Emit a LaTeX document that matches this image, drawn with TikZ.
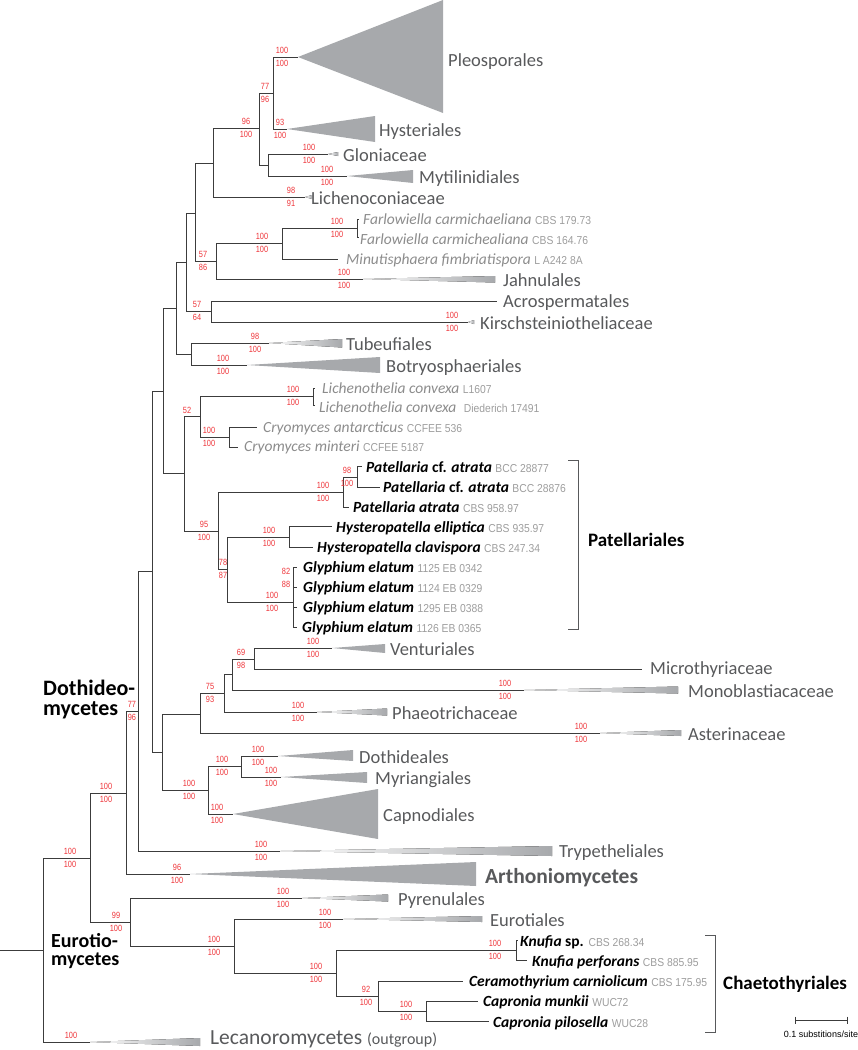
\documentclass[tikz,border=0pt]{standalone}
\usepackage{fontspec}
\setmainfont{Carlito}
\newfontfamily\strainfont[FakeStretch=0.9]{Liberation Sans}
\newfontfamily\bsfont[FakeStretch=0.82]{Liberation Sans}
\newfontfamily\scalefont{Liberation Sans}
\usetikzlibrary{positioning}

\definecolor{branchcol}{HTML}{3C3C3C}
\definecolor{cladefill}{HTML}{A7A9AC}
\definecolor{cladetext}{HTML}{58595B}
\definecolor{taxgray}{HTML}{8C8C8C}
\definecolor{straingray}{HTML}{9D9D9D}
\definecolor{bsred}{HTML}{EE3338}

\newcommand{\strain}[1]{{\strainfont\upshape\mdseries\fontsize{11.5}{12}\selectfont\color{straingray}#1}}
% bootstrap pair on a branch: name, x, y, top, bottom
\newcommand{\bsl}[5]{%
  \node[bsval] (#1-t) at (#2,#3-6.2) {#4};
  \node[bsval] (#1-b) at (#2,#3+6.4) {#5};}
% collapsed clade: [style] tip, length, up, down
\newcommand{\collapse}[5][clade]{\fill[#1] (#2) -- ++(#3,-#4) -- ++(0,#4+#5) -- cycle;}

\begin{document}
\begin{tikzpicture}[
    x=1pt, y=-1pt,
    branch/.style={draw=branchcol, line width=0.9pt},
    clade/.style={fill=cladefill},
    fadeclade/.style={left color=white, right color=cladefill},
    cladelab/.style={anchor=base west, inner sep=0pt, yshift=-6pt, text=cladetext, font=\fontsize{18.5}{20}\selectfont},
    taxon/.style={anchor=base west, inner sep=0pt, yshift=-5pt, text=taxgray, font=\fontsize{15.5}{17}\selectfont\itshape},
    boldtaxon/.style={taxon, text=black, font=\fontsize{15.5}{17}\selectfont\bfseries\itshape},
    grouplab/.style={anchor=base west, inner sep=0pt, font=\fontsize{19}{20}\selectfont\bfseries},
    bsval/.style={inner sep=0pt, text=bsred, font=\bsfont\fontsize{9}{9}\selectfont},
    bracket/.style={draw=cladetext, line width=0.9pt}
]
\useasboundingbox (0,0) rectangle (858,1050);

% Backbone
\coordinate (rootstem) at (0,950);
\coordinate (nRoot) at (43,950);
\coordinate (nU) at (90,858);
\coordinate (nT) at (126,793);
\coordinate (nS) at (138,711);
\coordinate (nR) at (152,571);
\coordinate (nO) at (163,391);
\coordinate (nI) at (176,308);
\coordinate (nG) at (186,262);
\coordinate (nD) at (195,213);
\coordinate (nB) at (213,163);

% Pleosporales to Lichenoconiaceae
\coordinate (nA) at (259,128);
\coordinate (nPH) at (273,93);
\coordinate (tPleo) at (298,57);
\coordinate (tHyst) at (287,129);
\coordinate (nGM) at (268,165);
\coordinate (tGlon) at (328,154);
\coordinate (tMyti) at (347,176);
\coordinate (tLichc) at (305,197);

% Farlowiella to Botryosphaeriales
\coordinate (nC) at (216,261);
\coordinate (nFM) at (282,243);
\coordinate (nF) at (357,228);
\coordinate (tF1) at (359,219);
\coordinate (tF2) at (359,237);
\coordinate (tMinu) at (338,259);
\coordinate (tJahn) at (363,279);
\coordinate (nE) at (211,311);
\coordinate (tAcro) at (497,301);
\coordinate (tKirs) at (468,322);
\coordinate (nH) at (191,354);
\coordinate (tTube) at (269,343);
\coordinate (tBotr) at (247,365);

% Lichenothelia, Cryomyces, Patellariales
\coordinate (nN) at (184,473);
\coordinate (nJ) at (200,416);
\coordinate (nL) at (313,396);
\coordinate (tL1) at (315,388);
\coordinate (tL2) at (315,405);
\coordinate (nCr) at (229,437);
\coordinate (tCrA) at (257,427);
\coordinate (tCrM) at (238,447);
\coordinate (nM) at (218,531);
\coordinate (nPa) at (343,492);
\coordinate (nPa12) at (357,477);
\coordinate (tPa1) at (362,466);
\coordinate (tPa2) at (380,487);
\coordinate (tPa3) at (349,507);
\coordinate (nK) at (227,569);
\coordinate (nHy) at (289,537);
\coordinate (tHe) at (332,526);
\coordinate (tHc) at (313,547);
\coordinate (nGl) at (293,602);
\coordinate (tG1) at (297,567);
\coordinate (tG2) at (297,587);
\coordinate (tG3) at (297,607);
\coordinate (tG4) at (297,627);
\coordinate (g82a) at (293.5,577);
\coordinate (g82b) at (293.5,589);

% Venturiales to Capnodiales
\coordinate (nQ) at (162,752);
\coordinate (nY) at (200,714);
\coordinate (nX) at (224,693);
\coordinate (nW) at (232,674);
\coordinate (nV) at (254,659);
\coordinate (tVent) at (332,648);
\coordinate (tMicr) at (642,669);
\coordinate (tMono) at (524,690);
\coordinate (tPhae) at (317,712);
\coordinate (tAste) at (600,733);
\coordinate (nZ2) at (208,790);
\coordinate (nZ) at (241,766);
\coordinate (tDoth) at (278,756);
\coordinate (tMyri) at (281,777);
\coordinate (tCapn) at (233,814);
\coordinate (tTryp) at (280,851);
\coordinate (tArth) at (190,874);

% Eurotiomycetes and outgroup
\coordinate (nEur) at (130,922);
\coordinate (tPyre) at (302,898);
\coordinate (nEu) at (234,946);
\coordinate (tEuro) at (343,919);
\coordinate (nKC) at (336,973);
\coordinate (nKn) at (516,950);
\coordinate (tK1) at (518,940);
\coordinate (tK2) at (527,960);
\coordinate (nCe) at (378,996);
\coordinate (tCer) at (463,981);
\coordinate (nCap) at (426,1011);
\coordinate (tCpM) at (478,1001);
\coordinate (tCpP) at (489,1021);
\coordinate (tLeca) at (90,1042);

% Collapsed clades
\collapse{tPleo}{145}{57}{56}
\collapse{tHyst}{88}{13}{13}
\collapse[fadeclade]{tGlon}{10}{2}{2}
\collapse{tMyti}{66}{6}{7}
\collapse[fadeclade]{tLichc}{7}{2}{2}
\collapse[fadeclade]{tJahn}{132}{3}{3.5}
\collapse[fadeclade]{tKirs}{6}{2}{2}
\collapse[fadeclade]{tTube}{73}{4}{4.5}
\collapse{tBotr}{133}{8}{8}
\collapse{tVent}{53}{4}{5}
\collapse[fadeclade]{tMono}{154}{3.5}{3.5}
\collapse[fadeclade]{tPhae}{70}{3.5}{3.5}
\collapse[fadeclade]{tAste}{81}{3}{3}
\collapse{tDoth}{75}{6}{5}
\collapse{tMyri}{86}{5}{6}
\collapse{tCapn}{145}{25}{25}
\collapse[fadeclade]{tTryp}{272}{5}{5}
\collapse{tArth}{286}{12}{12}
\collapse[fadeclade]{tPyre}{86}{3.5}{3.5}
\collapse[fadeclade]{tEuro}{139}{3}{3}
\collapse[fadeclade]{tLeca}{110}{4}{4}

% Branches
\draw[branch] (rootstem) -- (nRoot);
\foreach \p/\c in {nRoot/nU, nRoot/tLeca, nU/nT, nU/nEur, nT/nS, nT/tArth,
    nS/nR, nS/tTryp, nR/nO, nR/nQ, nO/nI, nO/nN, nI/nG, nI/nH,
    nG/nD, nG/nE, nD/nB, nD/nC, nB/nA, nB/tLichc, nA/nPH, nA/nGM,
    nPH/tPleo, nPH/tHyst, nGM/tGlon, nGM/tMyti, nC/nFM, nC/tJahn,
    nFM/nF, nFM/tMinu, nF/tF1, nF/tF2, nE/tAcro, nE/tKirs,
    nH/tTube, nH/tBotr, nN/nJ, nN/nM, nJ/nL, nJ/nCr, nL/tL1, nL/tL2,
    nCr/tCrA, nCr/tCrM, nM/nPa, nM/nK, nPa/nPa12, nPa/tPa3,
    nPa12/tPa1, nPa12/tPa2, nK/nHy, nK/nGl, nHy/tHe, nHy/tHc,
    nGl/tG1, nGl/tG2, nGl/tG3, nGl/tG4,
    nQ/nY, nQ/nZ2, nY/nX, nY/tAste, nX/nW, nX/tPhae, nW/nV, nW/tMono,
    nV/tVent, nV/tMicr, nZ2/nZ, nZ2/tCapn, nZ/tDoth, nZ/tMyri,
    nEur/tPyre, nEur/nEu, nEu/tEuro, nEu/nKC, nKC/nKn, nKC/nCe,
    nKn/tK1, nKn/tK2, nCe/tCer, nCe/nCap, nCap/tCpM, nCap/tCpP} {
    \draw[branch] (\p) |- (\c);
}
\draw[branch, line width=1.8pt] (g82a) -- (g82b);

% Tip labels
\node[cladelab] (lPleo) at (448,60) {Pleosporales};
\node[cladelab] (lHyst) at (379,130) {Hysteriales};
\node[cladelab] (lGlon) at (343,155) {Gloniaceae};
\node[cladelab] (lMyti) at (419,177) {Mytilinidiales};
\node[cladelab] (lLichc) at (311,198) {Lichenoconiaceae};
\node[taxon] (lF1) at (363,219) {Farlowiella carmichaeliana \strain{CBS 179.73}};
\node[taxon] (lF2) at (360,239) {Farlowiella carmichealiana \strain{CBS 164.76}};
\node[taxon] (lMinu) at (346,259) {Minutisphaera fimbriatispora \strain{L A242 8A}};
\node[cladelab] (lJahn) at (503,280) {Jahnulales};
\node[cladelab] (lAcro) at (503,301) {Acrospermatales};
\node[cladelab] (lKirs) at (480,323) {Kirschsteiniotheliaceae};
\node[cladelab] (lTube) at (346,344) {Tubeufiales};
\node[cladelab] (lBotr) at (386,366) {Botryosphaeriales};
\node[taxon] (lL1) at (322,388) {Lichenothelia convexa \strain{L1607}};
\node[taxon] (lL2) at (319,407) {Lichenothelia convexa\hspace{4pt} \strain{Diederich 17491}};
\node[taxon] (lCrA) at (263,427) {Cryomyces antarcticus \strain{CCFEE 536}};
\node[taxon] (lCrM) at (244,446) {Cryomyces minteri \strain{CCFEE 5187}};
\node[boldtaxon] (lPa1) at (366,467) {Patellaria {\upshape cf.} atrata \strain{BCC 28877}};
\node[boldtaxon] (lPa2) at (383,487) {Patellaria {\upshape cf.} atrata \strain{BCC 28876}};
\node[boldtaxon] (lPa3) at (353,507) {Patellaria atrata \strain{CBS 958.97}};
\node[boldtaxon] (lHe) at (336,527) {Hysteropatella elliptica \strain{CBS 935.97}};
\node[boldtaxon] (lHc) at (317,547) {Hysteropatella clavispora \strain{CBS 247.34}};
\node[boldtaxon] (lG1) at (303,567) {Glyphium elatum \strain{1125 EB 0342}};
\node[boldtaxon] (lG2) at (303,587) {Glyphium elatum \strain{1124 EB 0329}};
\node[boldtaxon] (lG3) at (303,607) {Glyphium elatum \strain{1295 EB 0388}};
\node[boldtaxon] (lG4) at (302,627) {Glyphium elatum \strain{1126 EB 0365}};
\node[cladelab] (lVent) at (390,649) {Venturiales};
\node[cladelab] (lMicr) at (650,668) {Microthyriaceae};
\node[cladelab] (lMono) at (688,691) {Monoblastiacaceae};
\node[cladelab] (lPhae) at (392,713) {Phaeotrichaceae};
\node[cladelab] (lAste) at (688,734) {Asterinaceae};
\node[cladelab] (lDoth) at (359,757) {Dothideales};
\node[cladelab] (lMyri) at (375,778) {Myriangiales};
\node[cladelab] (lCapn) at (383,815) {Capnodiales};
\node[cladelab] (lTryp) at (559,851) {Trypetheliales};
\node[cladelab, yshift=-1pt, font=\fontsize{21.5}{22}\selectfont\bfseries] (lArth) at (485,876) {Arthoniomycetes};
\node[cladelab] (lPyre) at (398,899) {Pyrenulales};
\node[cladelab] (lEuro) at (490,920) {Eurotiales};
\node[boldtaxon] (lK1) at (520,941) {Knufia {\upshape sp.} \strain{CBS 268.34}};
\node[boldtaxon] (lK2) at (532,961) {Knufia perforans \strain{CBS 885.95}};
\node[boldtaxon] (lCer) at (469,981) {Ceramothyrium carniolicum \strain{CBS 175.95}};
\node[boldtaxon] (lCpM) at (483,1001) {Capronia munkii \strain{WUC72}};
\node[boldtaxon] (lCpP) at (493,1022) {Capronia pilosella \strain{WUC28}};
\node[cladelab, font=\fontsize{21.5}{22}\selectfont] (lLeca) at (210,1038.5) {Lecanoromycetes {\fontsize{16}{17}\selectfont(outgroup)}};

% Group labels
\node[grouplab] (lPatel) at (588,546) {Patellariales};
\node[grouplab] (lChaet) at (723,989) {Chaetothyriales};
\node[grouplab, text depth=0pt, font=\fontsize{22}{20}\selectfont\bfseries] (lDothA) at (43,695) {Dothideo-};
\node[grouplab, font=\fontsize{22}{20}\selectfont\bfseries] (lDothB) at (43,715) {mycetes};
\node[grouplab, text depth=0pt, font=\fontsize{20}{20}\selectfont\bfseries] (lEurA) at (51,947) {Eurotio-};
\node[grouplab, font=\fontsize{20}{20}\selectfont\bfseries] (lEurB) at (51,965) {mycetes};

% Brackets
\coordinate (pbA) at (568,460);
\coordinate (pbB) at (578,460);
\coordinate (pbC) at (578,629);
\coordinate (pbD) at (568,629);
\draw[bracket] (pbA) -- (pbB) -- (pbC) -- (pbD);
\coordinate (cbA) at (705,935);
\coordinate (cbB) at (715,935);
\coordinate (cbC) at (715,1032);
\coordinate (cbD) at (705,1032);
\draw[bracket] (cbA) -- (cbB) -- (cbC) -- (cbD);

% Bootstrap values
\bsl{bPleo}{282}{57}{100}{100}
\bsl{bHyst}{280}{129}{93}{100}
\bsl{bPH}{265}{93}{77}{96}
\bsl{bA}{246}{128}{96}{100}
\bsl{bGlon}{309}{154}{100}{100}
\bsl{bMyti}{327}{176}{100}{100}
\bsl{bLichc}{291}{197}{98}{91}
\bsl{bF}{337}{228}{100}{100}
\bsl{bFM}{262}{243}{100}{100}
\bsl{bC}{203}{261}{57}{86}
\bsl{bJahn}{344}{279}{100}{100}
\bsl{bE}{197}{311}{57}{64}
\bsl{bKirs}{452}{322}{100}{100}
\bsl{bTube}{255}{343}{98}{100}
\bsl{bBotr}{223}{365}{100}{100}
\bsl{bL}{293}{396}{100}{100}
\node[bsval] (bJ-t) at (187,410) {52};
\bsl{bCr}{209}{437}{100}{100}
\bsl{bPa12}{347}{477}{98}{100}
\bsl{bPa}{323}{492}{100}{100}
\bsl{bM}{204}{531}{95}{100}
\bsl{bHy}{269}{537}{100}{100}
\bsl{bK}{223}{569}{78}{87}
\bsl{bG82}{286}{578}{82}{88}
\bsl{bGl}{272}{602}{100}{100}
\bsl{bVent}{313}{648}{100}{100}
\bsl{bV}{241}{659}{69}{98}
\bsl{bMono}{505}{690}{100}{100}
\bsl{bX}{210}{693}{75}{93}
\bsl{bPhae}{298}{712}{100}{100}
\bsl{bAste}{581}{733}{100}{100}
\bsl{bDoth}{258}{756}{100}{100}
\bsl{bZ}{222}{766}{100}{100}
\bsl{bMyri}{271}{777}{100}{100}
\bsl{bZ2}{189}{790}{100}{100}
\bsl{bCapn}{217}{814}{100}{100}
\bsl{bS}{132}{711}{77}{96}
\bsl{bTryp}{261}{851}{100}{100}
\bsl{bArth}{177}{874}{96}{100}
\bsl{bT}{106}{793}{100}{100}
\bsl{bU}{70}{858}{100}{100}
\bsl{bEur}{116}{922}{99}{100}
\bsl{bPyre}{283}{898}{100}{100}
\bsl{bEuro}{325}{919}{100}{100}
\bsl{bEu}{214}{946}{100}{100}
\bsl{bKC}{316}{973}{100}{100}
\bsl{bKn}{495}{950}{100}{100}
\bsl{bCe}{366}{996}{92}{100}
\bsl{bCap}{406}{1011}{100}{100}
\node[bsval] (bLeca-t) at (71,1035.8) {100};

% Scale bar
\coordinate (sbL) at (795,1020);
\coordinate (sbR) at (847,1020);
\draw[branch, line width=0.7pt] (sbL) -- (sbR);
\draw[branch, line width=0.7pt] (sbL) ++(0,-3.5) -- ++(0,7);
\draw[branch, line width=0.7pt] (sbR) ++(0,-3.5) -- ++(0,7);
\node[inner sep=0pt, font=\scalefont\fontsize{9}{9}\selectfont] (sblab) at (821,1034) {0.1 substitions/site};

\end{tikzpicture}
\end{document}
